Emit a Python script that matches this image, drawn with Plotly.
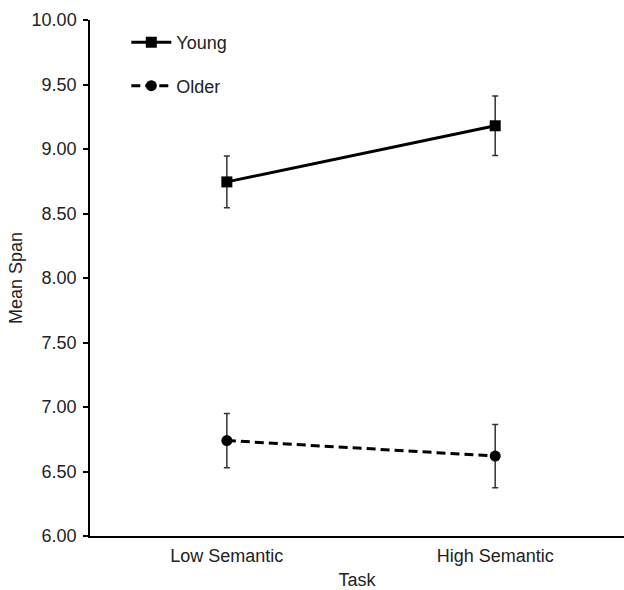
import plotly.graph_objects as go

tasks = ["Low Semantic", "High Semantic"]
young_mean = [8.745, 9.18]
young_err = [0.20, 0.23]
older_mean = [6.74, 6.62]
older_err = [0.21, 0.245]
y_ticks = [6.0, 6.5, 7.0, 7.5, 8.0, 8.5, 9.0, 9.5, 10.0]

FONT = "Liberation Sans, Arial, sans-serif"

fig = go.Figure()
fig.add_trace(go.Scatter(
    x=tasks, y=young_mean, name="Young", legendgroup="y",
    mode="lines+markers",
    line=dict(color="black", width=3),
    marker=dict(symbol="square", size=11, color="black"),
    error_y=dict(type="data", array=young_err, color="#333333", thickness=1.5, width=3),
))
fig.add_trace(go.Scatter(
    x=tasks, y=older_mean, name="Older", legendgroup="o",
    mode="lines+markers",
    line=dict(color="black", width=3, dash="9px,5px"),
    marker=dict(symbol="circle", size=11, color="black"),
    error_y=dict(type="data", array=older_err, color="#333333", thickness=1.5, width=3),
))

fig.update_layout(
    width=624, height=590,
    margin=dict(l=90, r=0, t=20, b=54),
    paper_bgcolor="white", plot_bgcolor="white",
    font=dict(family=FONT, size=18, color="#222222"),
    showlegend=True,
    legend=dict(x=0.068, y=0.992, xanchor="left", yanchor="top",
                traceorder="grouped", tracegroupgap=17, itemwidth=40,
                bgcolor="rgba(0,0,0,0)", font=dict(size=18)),
    xaxis=dict(
        type="category", range=[-0.51, 1.48],
        showline=True, linecolor="black", linewidth=1.5,
        ticks="", showgrid=False, zeroline=False, ticklabelstandoff=3,
        title=dict(text="Task", font=dict(size=18), standoff=10),
    ),
    yaxis=dict(
        range=[6.0, 10.0], tickvals=y_ticks,
        ticktext=[f"{v:.2f}" for v in y_ticks],
        showline=True, linecolor="black", linewidth=1.5,
        ticks="outside", ticklen=5, tickcolor="black", tickwidth=1.5,
        showgrid=False, zeroline=False, ticklabelstandoff=3,
        title=dict(text="Mean Span", font=dict(size=18), standoff=4),
    ),
)

fig.write_html(
    "out.html",
    config={"displayModeBar": False},
    post_script="document.body.style.margin='0';document.body.style.overflow='hidden';",
)
